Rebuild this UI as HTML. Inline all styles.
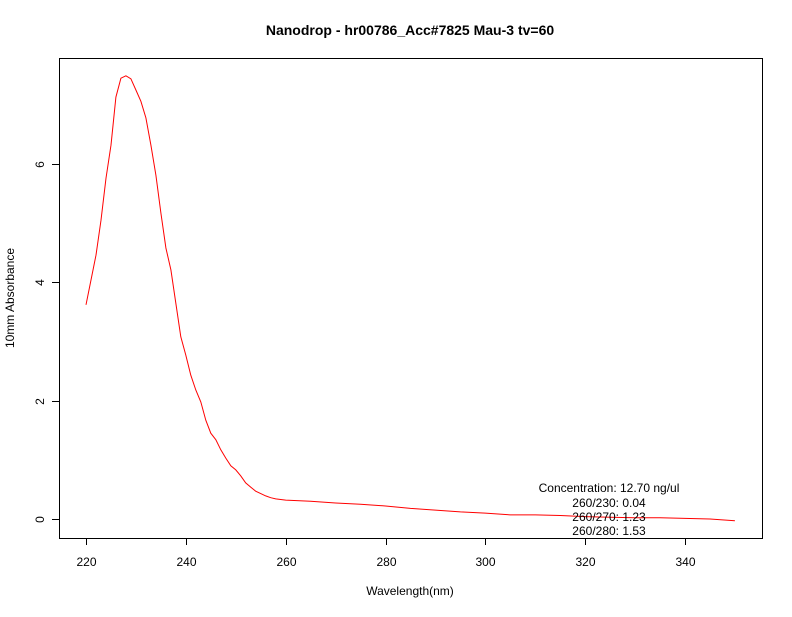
<!DOCTYPE html>
<html><head><meta charset="utf-8"><style>
body{margin:0;background:#fff}
svg text{font-family:"Liberation Sans",sans-serif;font-size:12px;fill:#000}
</style></head><body>
<svg width="792" height="612">
<text x="410" y="35" text-anchor="middle" style="font-weight:bold;font-size:14px">Nanodrop - hr00786_Acc#7825 Mau-3 tv=60</text>
<rect x="59.5" y="58.5" width="703" height="480" fill="none" stroke="#000"/>
<g id="xaxis"></g>
<g id="yaxis"></g>
<text x="410" y="595" text-anchor="middle">Wavelength(nm)</text>
<text transform="translate(14,298) rotate(-90)" text-anchor="middle">10mm Absorbance</text>
<path id="curve" fill="none" stroke="#ff0000" stroke-width="1"/>
<g text-anchor="middle">
<text x="609" y="492">Concentration: 12.70 ng/ul</text>
<text x="609" y="507">260/230: 0.04</text>
<text x="609" y="521">260/270: 1.23</text>
<text x="609" y="535">260/280: 1.53</text>
</g>
</svg>
<script>
const wavelengths=[220,221,222,223,224,225,226,227,228,229,230,231,232,233,234,235,236,237,238,239,240,241,242,243,244,245,246,247,248,249,250,251,252,253,254,255,256,257,258,260,265,270,275,280,285,290,295,300,305,310,315,320,325,330,335,340,345,350];
const absorbance=[3.62,4.04,4.46,5.05,5.76,6.32,7.13,7.45,7.49,7.44,7.25,7.06,6.78,6.32,5.81,5.17,4.58,4.21,3.65,3.08,2.77,2.43,2.18,1.98,1.67,1.45,1.34,1.17,1.03,0.90,0.83,0.73,0.61,0.54,0.47,0.43,0.39,0.36,0.34,0.32,0.30,0.27,0.25,0.22,0.18,0.15,0.12,0.10,0.07,0.07,0.06,0.04,0.03,0.02,0.02,0.01,0.00,-0.03];
const xTicks=[220,240,260,280,300,320,340];
const yTicks=[0,2,4,6];
const sx=v=>86+(v-220)*(599/120);
const sy=v=>519-v*(355/6);
const NS="http://www.w3.org/2000/svg";
let d="";
wavelengths.forEach((w,i)=>{d+=(i?"L":"M")+sx(w).toFixed(1)+","+sy(absorbance[i]).toFixed(1);});
document.getElementById("curve").setAttribute("d",d);
const xa=document.getElementById("xaxis");
const l1=document.createElementNS(NS,"line");
l1.setAttribute("x1",sx(220));l1.setAttribute("x2",sx(340));l1.setAttribute("y1",538.5);l1.setAttribute("y2",538.5);l1.setAttribute("stroke","#000");


xa.appendChild(l1);
xTicks.forEach(t=>{
 const ln=document.createElementNS(NS,"line");
 const x=Math.round(sx(t))+0.5;
 ln.setAttribute("x1",x);ln.setAttribute("x2",x);ln.setAttribute("y1",538);ln.setAttribute("y2",545);ln.setAttribute("stroke","#000");
 
 
 xa.appendChild(ln);
 const tx=document.createElementNS(NS,"text");
 tx.setAttribute("x",x);tx.setAttribute("y",566);tx.setAttribute("text-anchor","middle");tx.textContent=t;
 
 
 xa.appendChild(tx);
});
const ya=document.getElementById("yaxis");
const l2=document.createElementNS(NS,"line");
l2.setAttribute("x1",59.5);l2.setAttribute("x2",59.5);l2.setAttribute("y1",sy(0));l2.setAttribute("y2",sy(6));l2.setAttribute("stroke","#000");


ya.appendChild(l2);
yTicks.forEach(t=>{
 const y=Math.round(sy(t))+0.5;
 const ln=document.createElementNS(NS,"line");
 ln.setAttribute("x1",52);ln.setAttribute("x2",59);ln.setAttribute("y1",y);ln.setAttribute("y2",y);ln.setAttribute("stroke","#000");
 
 
 ya.appendChild(ln);
 const tx=document.createElementNS(NS,"text");
 tx.setAttribute("transform","translate(44,"+y+") rotate(-90)");tx.setAttribute("text-anchor","middle");tx.textContent=t;
 
 
 ya.appendChild(tx);
});
</script>
</body></html>
